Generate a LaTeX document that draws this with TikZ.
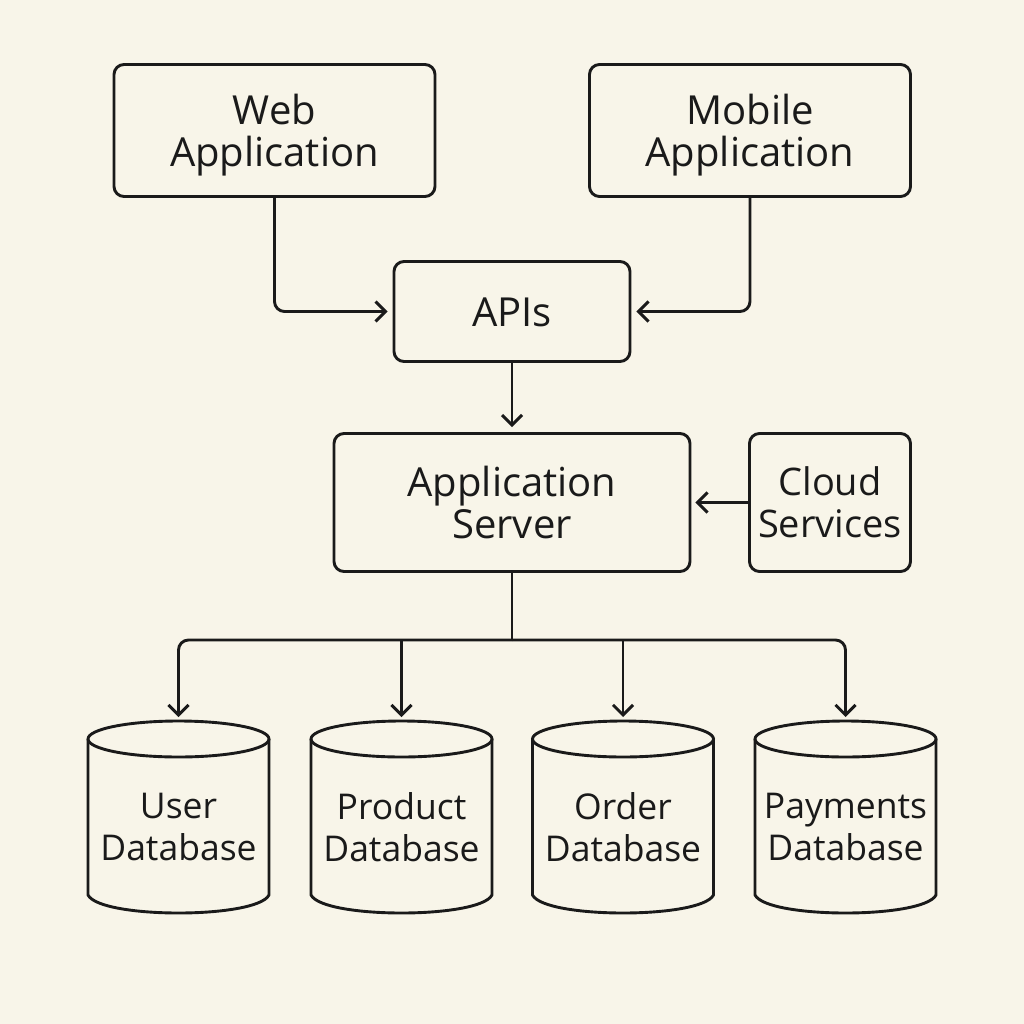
\documentclass[tikz,border=0pt]{standalone}
\usepackage{fontspec}
\setmainfont{Open Sans}
\usetikzlibrary{arrows.meta}
\definecolor{bgc}{HTML}{F8F5E9}
\definecolor{ink}{HTML}{1A1A1A}
\newcommand{\lw}{2.9pt}
\newcommand{\cyl}[3]{% name, cx, text
  \coordinate (#1top) at (#2,-717);
  \path[draw=ink,line width=\lw,line join=round] (#2-90.5,-739) -- (#2-90.5,-895) .. controls (#2-78,-919) and (#2+78,-919) .. (#2+90.5,-895) -- (#2+90.5,-739);
  \path[draw=ink,line width=\lw] (#2,-739) ellipse [x radius=90.5,y radius=18];
  \node[dblab] (#1) at (#2,-827) {#3};
}
\tikzset{x=1pt,y=1pt,
  lab/.style={font=\fontsize{40pt}{42pt}\selectfont,text=ink,inner sep=0pt,align=center},
  dblab/.style={font=\fontsize{35.5pt}{42pt}\selectfont,text=ink,inner sep=0pt,align=center},
  box/.style={draw=ink,line width=\lw,rounded corners=10pt,lab,anchor=center},
  conn/.style={draw=ink,line width=\lw,rounded corners=10pt},
  arr/.style={conn,-{Straight Barb[length=10pt,width=20pt,line width=\lw]}}}
\begin{document}
\begin{tikzpicture}
\useasboundingbox (0,0) rectangle (1024,-1024);
\fill[bgc] (0,0) rectangle (1024,-1024);
\node[box,minimum width=321pt,minimum height=132pt] (web) at (274.5,-130.5) {};
\node[lab] (webtext) at (274.5,-135.5) {Web\\Application};
\node[box,minimum width=321pt,minimum height=132pt] (mob) at (750,-130.5) {};
\node[lab] (mobtext) at (750,-135.5) {Mobile\\Application};
\node[box,minimum width=236pt,minimum height=100pt] (api) at (512,-311.5) {};
\node[lab] (apitext) at (512,-312.5) {APIs};
\node[box,minimum width=356pt,minimum height=138pt] (srv) at (512,-502.5) {Application\\Server};
\node[box,minimum width=161pt,minimum height=138pt,font=\fontsize{38pt}{42pt}\selectfont] (cld) at (830,-502.5) {Cloud\\Services};
\cyl{u}{178.5}{User\\Database}
\cyl{p}{401.5}{Product\\Database}
\cyl{o}{623}{Order\\Database}
\cyl{y}{845.5}{Payments\\Database}
\coordinate (bus) at (512,-640);
\draw[arr,shorten >=5pt] (web.south) |- (api.west);
\draw[arr,shorten >=5pt] (mob.south) |- (api.east);
\draw[arr,shorten >=5pt] (api.south) -- (srv.north);
\draw[arr,shorten >=4pt] (cld.west) -- (srv.east);
\draw[conn] (srv.south) -- (bus);
\draw[arr] (bus) -| (utop);
\draw[arr] (bus) -| (ytop);
\draw[arr] (bus -| ptop) -- (ptop);
\draw[arr] (bus -| otop) -- (otop);
\end{tikzpicture}
\end{document}
